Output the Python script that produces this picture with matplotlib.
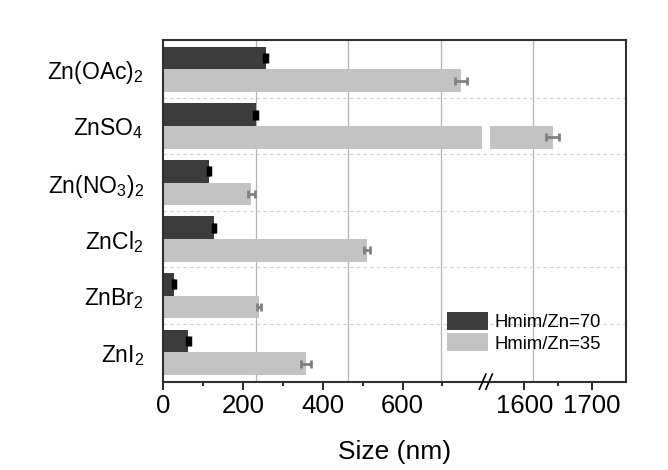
import numpy as np
import matplotlib.pyplot as plt

plt.rcParams['font.family'] = ['Liberation Sans', 'DejaVu Sans']
plt.rcParams['mathtext.fontset'] = 'custom'
plt.rcParams['mathtext.rm'] = 'Liberation Sans'

#==================================================
# data (bottom to top)
#==================================================
salts = [r'$\mathregular{ZnI_2}$', r'$\mathregular{ZnBr_2}$', r'$\mathregular{ZnCl_2}$',
         r'$\mathregular{Zn(NO_3)_2}$', r'$\mathregular{ZnSO_4}$', r'$\mathregular{Zn(OAc)_2}$']
size_70 = [63, 27, 127, 115, 232, 257]
err_70 = [3, 3, 3, 3, 4, 4]
size_35 = [358, 240, 510, 221, 1642, 747]
err_35 = [12, 4, 8, 8, 10, 15]

xticks_major = [0, 200, 400, 600, 1600, 1700]
xticks_minor = [100, 300, 500, 700, 1650]

# broken axis: 0-800 and 1550-1750
L1, R0, R1, GAP, K = 800., 1550., 1750., 20., 1.7

def fwd(x):
    x = np.asarray(x, dtype=float)
    return np.where(x <= L1, x, np.where(x >= R0, L1 + GAP + (x - R0) * K,
                                         L1 + (x - L1) * GAP / (R0 - L1)))

def inv(y):
    y = np.asarray(y, dtype=float)
    return np.where(y <= L1, y, np.where(y >= L1 + GAP, R0 + (y - L1 - GAP) / K,
                                         L1 + (y - L1) * (R0 - L1) / GAP))

fig = plt.figure(figsize=(6.68, 4.70), dpi=100)
ax = fig.add_axes([0.2445, 0.188, 0.6925, 0.727])
ax.set_xscale('function', functions=(fwd, inv))

y = np.arange(len(salts))
h = 0.4
ax.barh(y + h/2, size_70, height=h, color='#3c3c3c', zorder=2, label='Hmim/Zn=70')
ax.barh(y - h/2, size_35, height=h, color='#c3c3c3', zorder=2, label='Hmim/Zn=35')
ax.errorbar(size_70, y + h/2, xerr=err_70, fmt='none', ecolor='black',
            elinewidth=2.5, capsize=3.5, capthick=2.5, zorder=3)
ax.errorbar(size_35, y - h/2, xerr=err_35, fmt='none', ecolor='#808080',
            elinewidth=2, capsize=3, capthick=2, zorder=3)

# white gap at the break (only through the bars)
for yi in y:
    ax.fill_betweenx([yi - h, yi + h], L1, R0, color='white', lw=0, zorder=2.2)

ax.set_xlim(0, R1)
ax.set_ylim(-0.52, 5.52)

# vertical grid lines (evenly spaced across the frame)
for f in [0.2, 0.4, 0.6, 0.8]:
    ax.plot([f, f], [0, 1], transform=ax.transAxes, color='#b4b4b4', lw=0.9, zorder=0)

ax.set_yticks(y)
ax.set_yticklabels(salts, fontsize=16.5)
ax.set_yticks(y[:-1] + 0.5, minor=True)
ax.grid(axis='y', which='minor', ls=(0, (3, 3)), color='#d0d0d0', lw=0.8)
ax.tick_params(axis='y', which='both', length=0, pad=14)

ax.set_xticks(xticks_major)
ax.set_xticks(xticks_minor, minor=True)
ax.tick_params(axis='x', which='major', direction='out', length=6, width=1.2, labelsize=18.5, pad=3)
ax.tick_params(axis='x', which='minor', direction='out', length=3, width=1.2)
ax.set_xlabel('Size (nm)', fontsize=19, labelpad=16)

for s in ax.spines.values():
    s.set_linewidth(1.5)
    s.set_color('#303030')

# break marks on the bottom axis
bx = (fwd(L1) + GAP / 2) / fwd(R1)
for dx in [-0.008, 0.006]:
    ax.plot([bx + dx - 0.007, bx + dx + 0.007], [-0.022, 0.022], transform=ax.transAxes,
            color='black', lw=1.2, clip_on=False, zorder=5)

ax.legend(loc='upper left', bbox_to_anchor=(447/668, 1 - 312/470), bbox_transform=fig.transFigure,
          frameon=False, fontsize=13.3, handlelength=2.2, handleheight=1.1,
          labelspacing=0.12, handletextpad=0.35, borderpad=0, borderaxespad=0)

fig.savefig('out.png', dpi=100)
